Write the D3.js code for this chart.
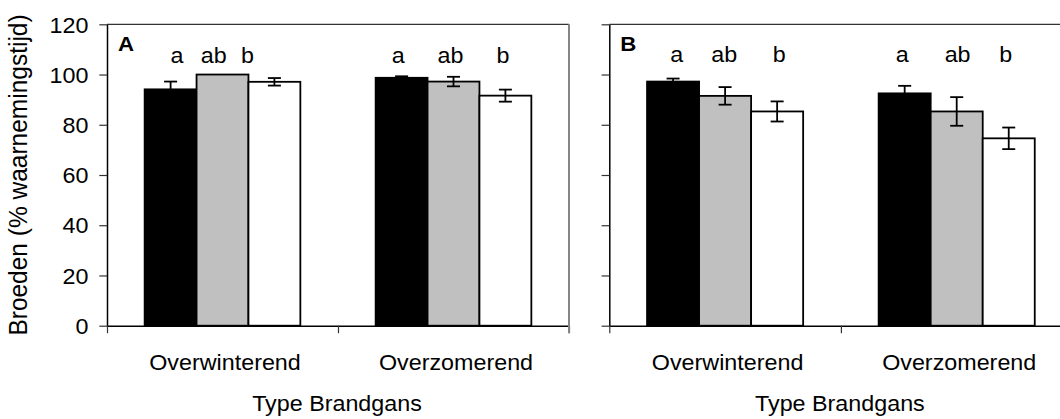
<!DOCTYPE html>
<html>
<head>
<meta charset="utf-8">
<script src="https://cdn.jsdelivr.net/npm/d3@7"></script>
<style>
  html, body { margin: 0; padding: 0; background: #fff; overflow: hidden; }
  svg { display: block; overflow: hidden; }
  text { font-family: "Liberation Sans", Arial, sans-serif; fill: #000; }
</style>
</head>
<body>
<svg id="chart" width="1060" height="419"></svg>
<script>
// ---------------- data ----------------
const categories = ["Overwinterend", "Overzomerend"];
const seriesKeys = ["s1", "s2", "s3"];
const letters = ["a", "ab", "b"];
const yTicks = [0, 20, 40, 60, 80, 100, 120];

const valuesA = [[94.1, 100.0, 97.1], [98.7, 97.2, 91.6]];
const errorsA = [[3.1, 0.0, 1.5], [0.6, 1.9, 2.4]];
const valuesB = [[97.2, 91.5, 85.3], [92.5, 85.3, 74.6]];
const errorsB = [[1.2, 3.5, 4.0], [3.0, 5.7, 4.3]];

const panelLabels = ["A", "B"];
const xTitle = "Type Brandgans";
const yTitle = "Broeden (% waarnemingstijd)";

// ---------------- layout / style ----------------
const W = 1060;
const SX = 1.06;                 // horizontal stretch of the original text
const FS = 22;
const fills = ["#000000", "#c0c0c0", "#ffffff"];
const yTop = 24.3, yBottom = 325.7;
const panels = [
  { left: 107, right: 569, label: panelLabels[0], values: valuesA, errors: errorsA, showLabels: true,
    letterY: 63, letterDx: [[6.5, -8.8, -27], [-3.4, -3, -2.4]], rightBorder: true },
  { left: 609.3, right: 1072.5, label: panelLabels[1], values: valuesB, errors: errorsB, showLabels: false,
    letterY: 62, letterDx: [[3.7, -0.8, 2], [-2.4, 0.9, -3]], rightBorder: false }
];

const svg = d3.select("#chart");
const y = d3.scaleLinear().domain([0, 120]).range([yBottom, yTop]);

function stretchedText(g, x, yy, txt, size, anchor, weight) {
  return g.append("text")
    .attr("transform", `translate(${x},${yy}) scale(${SX},1)`)
    .attr("text-anchor", anchor)
    .style("font-size", size + "px")
    .style("font-weight", weight || "normal")
    .text(txt);
}

panels.forEach(p => {
  const g = svg.append("g");
  const x0 = d3.scaleBand().domain(categories).range([p.left, p.right]).padding(0);
  const bw = x0.bandwidth();
  const gw = bw * 0.674;
  const x1 = d3.scaleBand().domain(seriesKeys).range([(bw - gw) / 2, (bw + gw) / 2]).padding(0);
  const xb = d3.scaleLinear().domain([0, categories.length]).range([p.left, p.right]);
  const visRight = Math.min(p.right, W);

  // frame (top line)
  g.append("line").attr("x1", p.left).attr("x2", visRight).attr("y1", y(120)).attr("y2", y(120))
    .attr("stroke", "#333").attr("stroke-width", 1.2);

  // bars
  categories.forEach((c, ci) => {
    const gg = g.append("g").attr("transform", `translate(${x0(c)},0)`);
    gg.selectAll("rect").data(seriesKeys).join("rect")
      .attr("x", k => x1(k))
      .attr("y", (k, i) => y(p.values[ci][i]))
      .attr("width", x1.bandwidth())
      .attr("height", (k, i) => y(0) - y(p.values[ci][i]))
      .attr("fill", (k, i) => fills[i])
      .attr("stroke", "#000").attr("stroke-width", 1.8);
    // error bars
    seriesKeys.forEach((k, i) => {
      const e = p.errors[ci][i];
      if (e <= 0) return;
      const cx = x1(k) + x1.bandwidth() / 2;
      const v = p.values[ci][i];
      gg.append("line").attr("x1", cx).attr("x2", cx).attr("y1", y(v + e)).attr("y2", y(v - e))
        .attr("stroke", "#000").attr("stroke-width", 1.8);
      [v + e, v - e].forEach(t => {
        gg.append("line").attr("x1", cx - 6.5).attr("x2", cx + 6.5).attr("y1", y(t)).attr("y2", y(t))
          .attr("stroke", "#000").attr("stroke-width", 1.8);
      });
    });
    // significance letters
    seriesKeys.forEach((k, i) => {
      const cx = x0(c) + x1(k) + x1.bandwidth() / 2 + p.letterDx[ci][i];
      stretchedText(g, cx, p.letterY, letters[i], FS, "middle");
    });
    // category label
    stretchedText(g, x0(c) + bw / 2 + 2.5, 369.5, c, FS, "middle");
  });

  // y axis
  const yAxis = d3.axisLeft(y).tickValues(yTicks).tickSizeInner(7.7).tickSizeOuter(0)
    .tickFormat(p.showLabels ? d3.format("d") : () => "");
  const ya = g.append("g").attr("transform", `translate(${p.left},0)`).call(yAxis);
  ya.select(".domain").attr("stroke", "#000").attr("stroke-width", 1.5);
  ya.selectAll(".tick line").attr("stroke", "#333").attr("stroke-width", 1.2);
  ya.selectAll(".tick text")
    .attr("x", -18.5 / SX).attr("dy", "0.35em")
    .attr("transform", `scale(${SX},1)`)
    .style("font-size", FS + "px").style("font-family", "Liberation Sans, Arial, sans-serif")
    .attr("fill", "#000");

  // x axis (tick marks at category boundaries)
  const xbVis = xb.copy().domain([0, xb.invert(visRight)]).range([p.left, visRight]);
  const xAxis = d3.axisBottom(xbVis)
    .tickValues(d3.range(categories.length + 1).filter(v => xb(v) <= W))
    .tickFormat(() => "").tickSizeInner(7.5).tickSizeOuter(0);
  const xa = g.append("g").attr("transform", `translate(0,${yBottom})`).call(xAxis);
  xa.select(".domain").attr("stroke", "#000").attr("stroke-width", 1.5);
  xa.selectAll(".tick line").attr("stroke", "#333").attr("stroke-width", 1.2);

  if (p.rightBorder) {
    g.append("line").attr("x1", p.right).attr("x2", p.right).attr("y1", y(120)).attr("y2", yBottom + 7.5)
      .attr("stroke", "#858585").attr("stroke-width", 2);
  }

  // panel label
  stretchedText(g, p.left + 11, 51, p.label, FS - 1, "start", "bold");

  // x title (centred on the full plot area)
  stretchedText(g, (p.left + p.right) / 2 - 1, 411, xTitle, FS, "middle");
});

// y title
svg.append("text")
  .attr("transform", `translate(27,175) scale(${SX},1) rotate(-90)`)
  .attr("text-anchor", "middle")
  .style("font-size", "24.5px")
  .text(yTitle);
</script>
</body>
</html>
